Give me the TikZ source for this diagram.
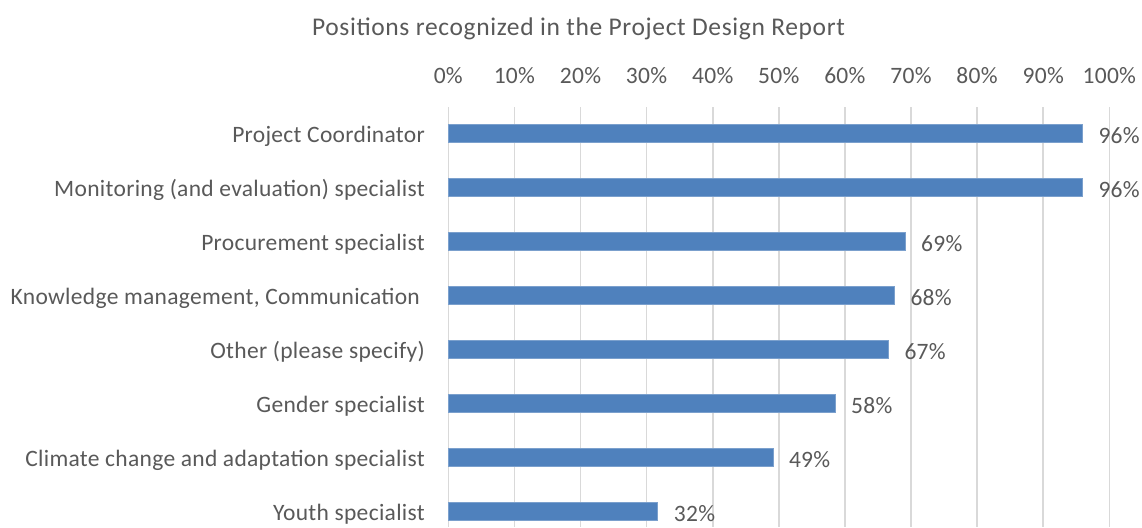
\documentclass[tikz,border=0pt]{standalone}
\usepackage{fontspec}
\setmainfont{Carlito}
\newfontfamily\lblfont[LetterSpace=1.3]{Carlito}
\newfontfamily\ttlfont[LetterSpace=2.5]{Carlito}
\definecolor{txt}{HTML}{595959}
\definecolor{gridc}{HTML}{D9D9D9}
\definecolor{barc}{HTML}{4F81BD}
\begin{document}
\begin{tikzpicture}[x=1pt,y=-1pt,
  lbl/.style={inner sep=0pt,text=txt,font=\lblfont\fontsize{23.5}{28}\selectfont},
  catlbl/.style={lbl,anchor=base east},
  vallbl/.style={lbl,anchor=base west},
  ticklbl/.style={lbl,anchor=base},
  gridline/.style={draw=gridc,line width=1.6pt},
  barbox/.style={fill=barc,draw=barc!75!white,line width=0.6pt}]
\useasboundingbox[fill=white] (0,0) rectangle (1142,527);
% title
\node[inner sep=0pt,text=txt,anchor=base,font=\ttlfont\fontsize{25.5}{30}\selectfont] (title) at (578.5,36) {Positions recognized in the Project Design Report};
% gridlines and tick labels
\foreach \k in {0,...,10}{
  \pgfmathsetmacro{\gx}{448.3+66.1*\k}
  \draw[gridline] (\gx,107) -- (\gx,527);
  \pgfmathtruncatemacro{\pc}{10*\k}
  \node[ticklbl] (tick\k) at (\gx,83.5) {\pc\%};
}
% bars
\foreach \i/\e/\v/\name in {
  0/1082.3/96/Project Coordinator,
  1/1082.3/96/Monitoring (and evaluation) specialist,
  2/905/69/Procurement specialist,
  3/894.3/68/{Knowledge management, Communication\kern5pt},
  4/888.3/67/Other (please specify),
  5/835/58/Gender specialist,
  6/772.8/49/Climate change and adaptation specialist,
  7/657.7/32/Youth specialist}{
  \pgfmathsetmacro{\cy}{133.5+54*\i}
  \path[barbox] (448.3,\cy-9.25) rectangle (\e,\cy+9.25);
  \node[catlbl] (cat\i) at (425,\cy+9) {\name};
  \node[vallbl] (val\i) at (\e+16,\cy+9.5) {\v\%};
}
\end{tikzpicture}
\end{document}
